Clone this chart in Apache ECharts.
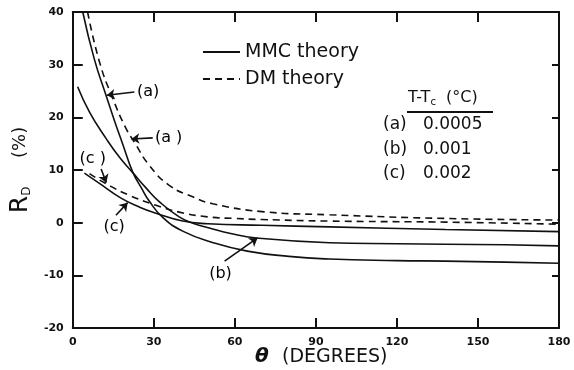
<!DOCTYPE html>
<html><head><meta charset="utf-8">
<script src="https://cdn.jsdelivr.net/npm/echarts@6/dist/echarts.min.js"></script>
<style>html,body{margin:0;padding:0;background:#fff}#c{width:574px;height:370px}</style>
</head><body><div id="c"></div>
<script>
// ---- data (theta in degrees, R_D in %) ----
const mmcA = [[3.7,40],[8,31],[12.3,24.2],[15.4,19.4],[18.5,14.9],[22.2,9.6],[25.5,6.5],[28.3,4.1],[33.3,1.0],[40.7,-1.6],[52,-3.8],[64.6,-5.4],[80,-6.4],[95,-6.9],[120,-7.2],[138,-7.3],[160,-7.5],[180,-7.7]];
const mmcB = [[1.8,25.8],[6.2,21],[12.3,16],[17.3,12.4],[22.2,9.5],[27.1,6.6],[32,4.0],[39.4,1.1],[45,-0.2],[50.5,-1.0],[58,-2.0],[68,-2.9],[95,-3.8],[120,-4.0],[138,-4.1],[160,-4.2],[180,-4.4]];
const mmcC = [[4.3,9.4],[10,7.4],[17.7,4.7],[25,2.9],[30.8,1.8],[40.7,0.3],[50,-0.2],[70,-0.5],[95,-0.8],[138,-1.3],[180,-1.7]];
const dmA  = [[5.5,40],[9.9,30.5],[14.8,23.6],[19.7,17.9],[22.8,15.3],[28.3,10.9],[35.7,7.1],[44.4,4.9],[51.8,3.6],[70,2.1],[95,1.5],[138,0.8],[180,0.5]];
const dmC  = [[6.2,9.3],[12.3,7.4],[20.9,5.2],[30.8,3.3],[39.4,2.0],[50,1.1],[60,0.8],[70,0.6],[95,0.3],[138,0.1],[180,-0.3]];
const xTicks = [0,30,60,90,120,150,180];
const yTicks = [-20,-10,0,10,20,30,40];
// annotation labels: [theta, R_D, text]
const annLabels = [[27.9,24.8,'(a)'],[35.5,16.2,'(a )'],[7.4,12.1,'(c )'],[15.3,-0.8,'(c)'],[54.7,-9.7,'(b)']];
// annotation arrows: [from theta, from R, to theta, to R]
const annArrows = [[22.8,24.8,12.6,24.2],[29.6,16.1,21.7,15.9],[10.5,10.2,12.4,7.6],[16,1.4,20.3,3.8],[56.2,-7.3,68.4,-2.9]];
const legendNames = ['MMC theory','DM theory'];
const tableRows = [['(a)','0.0005'],['(b)','0.001'],['(c)','0.002']];

const FF = 'DejaVu Sans';
const chart = echarts.init(document.getElementById('c'));
const solid = {color:'#111', width:1.6, type:'solid'};
const dashed = {color:'#111', width:1.6, type:[7,5]};
function ser(name, data, ls){
  return {name, type:'line', data, symbol:'none', smooth:0.5, lineStyle:ls, itemStyle:{color:'#111'}, z:3};
}
const axisCommon = {
  type:'value', min:0, max:180, interval:30,
  axisLine:{show:true, onZero:false, lineStyle:{color:'#111', width:2}},
  axisTick:{show:true, inside:true, length:10, lineStyle:{color:'#111', width:2}},
  splitLine:{show:false}
};
const txt = (l,t,s,fs)=>({type:'text', left:l, top:t, style:{text:s, fontFamily:FF, fontSize:fs, fill:'#111'}});
chart.setOption({
  animation:false,
  backgroundColor:'#fff',
  grid:{left:72, right:15, top:12, bottom:42},
  xAxis:[
    Object.assign({}, axisCommon, {position:'bottom',
      axisLabel:{show:true, margin:9, fontFamily:FF, fontWeight:'bold', fontSize:11, color:'#111',
        formatter:v=> xTicks.includes(v)? String(v):''}}),
    Object.assign({}, axisCommon, {position:'top', axisLabel:{show:false}})
  ],
  yAxis:[
    {type:'value', min:-20, max:40, interval:10, position:'left',
     axisLine:{show:true, onZero:false, lineStyle:{color:'#111', width:2}},
     axisTick:{show:true, inside:true, length:10, lineStyle:{color:'#111', width:2}},
     splitLine:{show:false},
     axisLabel:{margin:9, fontFamily:FF, fontWeight:'bold', fontSize:11, color:'#111',
       formatter:v=> yTicks.includes(v)? String(v):''},
     name:'{r|R}{s|D}     (%)', nameLocation:'middle', nameGap:29, nameRotate:90,
     nameTextStyle:{fontFamily:FF, fontSize:18, color:'#111',
       rich:{r:{fontFamily:FF, fontSize:25, color:'#111'}, s:{fontFamily:FF, fontSize:12, color:'#111', verticalAlign:'bottom', padding:[12,0,0,0]}}}
    },
    {type:'value', min:-20, max:40, interval:10, position:'right',
     axisLine:{show:true, onZero:false, lineStyle:{color:'#111', width:2}},
     axisTick:{show:true, inside:true, length:7, lineStyle:{color:'#111', width:2}},
     axisLabel:{show:false}, splitLine:{show:false}}
  ],
  series:[
    ser('MMC theory', mmcA, solid),
    ser('MMC theory', mmcB, solid),
    ser('MMC theory', mmcC, solid),
    ser('DM theory', dmA, dashed),
    ser('DM theory', dmC, dashed),
    {name:'annot', type:'scatter', data:annLabels, symbolSize:1, itemStyle:{color:'rgba(0,0,0,0)', opacity:1},
     label:{show:true, position:'inside', opacity:1, formatter:p=>p.data[2], fontFamily:FF, fontSize:16, color:'#000', textBorderWidth:0, textBorderColor:'transparent'},
     markLine:{silent:true, symbol:['none','arrow'], symbolSize:8, label:{show:false},
       lineStyle:{color:'#111', width:1.6, type:'solid'},
       data: annArrows.map(a=>[{coord:[a[0],a[1]]},{coord:[a[2],a[3]]}])}
    }
  ],
  graphic:[
    // legend
    {type:'line', shape:{x1:203, y1:52, x2:240, y2:52}, style:{stroke:'#111', lineWidth:1.8}},
    {type:'line', shape:{x1:203, y1:79, x2:240, y2:79}, style:{stroke:'#111', lineWidth:1.8, lineDash:[7,5]}},
    txt(245, 43, legendNames[0], 19),
    txt(245, 70, legendNames[1], 19),
    // x axis title
    {type:'text', left:255, top:347, style:{text:'θ', fontFamily:FF, fontSize:20, fontStyle:'italic', fontWeight:'bold', fill:'#111'}},
    txt(282, 348, '(DEGREES)', 19),
    // table
    {type:'text', left:408, top:90, style:{text:'{a|T-T}{s|c}{a|  (°C)}', rich:{a:{fontFamily:FF, fontSize:16, fill:'#111'}, s:{fontFamily:FF, fontSize:10, fill:'#111', padding:[9,0,0,0]}}}},
    {type:'line', shape:{x1:407, y1:112, x2:493, y2:112}, style:{stroke:'#111', lineWidth:1.8}},
    txt(383, 116, tableRows[0][0], 17), txt(423, 116, tableRows[0][1], 17),
    txt(383, 141, tableRows[1][0], 17), txt(423, 141, tableRows[1][1], 17),
    txt(383, 165, tableRows[2][0], 17), txt(423, 165, tableRows[2][1], 17)
  ]
});
</script></body></html>
